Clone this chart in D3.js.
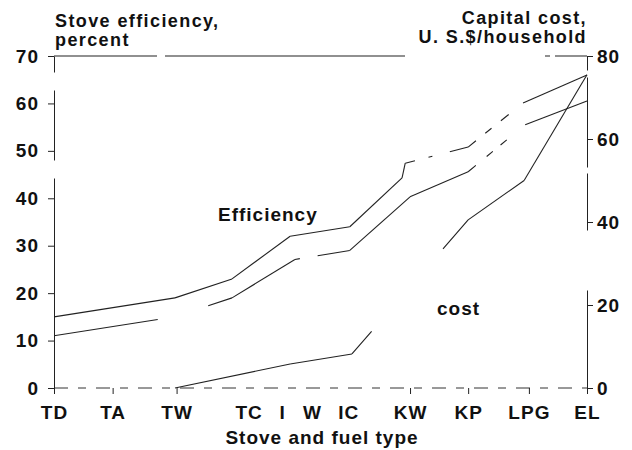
<!DOCTYPE html>
<html>
<head>
<meta charset="utf-8">
<script src="https://cdn.jsdelivr.net/npm/d3@7"></script>
<style>
body { margin: 0; background: #fff; }
text { font-family: "Liberation Sans", Arial, sans-serif; font-weight: bold; fill: #111; }
</style>
</head>
<body>
<script>
// stove / fuel types along the bottom, with their place on the (uneven) category axis
var categories = ["TD", "TA", "TW", "TC", "I", "W", "IC", "KW", "KP", "LPG", "EL"];
var categoryPos = [0, 1.1, 2.3, 3.65, 4.28, 4.84, 5.52, 6.68, 7.77, 8.91, 10];
// these have no tick mark in the original
var noTick = ["TC", "I", "W", "IC"];

// efficiency band, percent (left axis) - [axis position, value]
var effUpper = [[0, 15], [2.27, 19], [3.34, 23], [4.43, 32], [5.55, 34], [6.53, 44.3], [6.59, 47.4], [7.77, 50.8], [8.8, 60.1], [10, 66]];
var effLower = [[0, 11], [2.27, 15], [3.34, 19], [4.52, 27.1], [5.55, 29], [6.68, 40.3], [7.77, 45.6], [8.84, 55.5], [10, 60.5]];

// capital cost, US$/household (right axis)
var capCost = [[2.27, 0], [4.43, 5.8], [5.59, 8.2], [7.77, 40.5], [8.82, 50], [10, 75.5]];

var leftTicks = [0, 10, 20, 30, 40, 50, 60, 70];
var rightTicks = [0, 20, 40, 60, 80];

var W = 632, H = 450;
var x0 = 54, x1 = 587, yTop = 56, yBot = 388;

var svg = d3.select("body").append("svg")
    .attr("width", W)
    .attr("height", H);

var x = d3.scaleLinear().domain([0, 10]).range([x0, x1]);
var yL = d3.scaleLinear().domain([0, 70]).range([yBot, yTop]);
var yR = d3.scaleLinear().domain([0, 80]).range([yBot, yTop]);

// scanned original has broken strokes, mimic them roughly with dashes
var upperDash = {6: "10 14 4 18 22", 7: "10 12 8 12 10 30"};
var lowerDash = {0: "105 40", 1: "0 35 80", 3: "5 18 100", 6: "10 14 8 10 8 30"};
var costDash = {2: "30 109 80"};

function drawSeries(data, yScale, dashes) {
    var line = d3.line()
        .x(function(d) { return x(d[0]); })
        .y(function(d) { return yScale(d[1]); });
    for (var i = 0; i < data.length - 1; i++) {
        svg.append("path")
            .attr("d", line([data[i], data[i + 1]]))
            .attr("fill", "none")
            .attr("stroke", "#222")
            .attr("stroke-width", 1.1)
            .attr("stroke-dasharray", dashes[i] || null);
    }
}

// top frame line at 70 / 80
svg.append("line")
    .attr("x1", x0).attr("x2", x1)
    .attr("y1", yTop).attr("y2", yTop)
    .attr("stroke", "#222")
    .attr("stroke-width", 1.1)
    .attr("stroke-dasharray", "103 8 240 140 5 5 40");

// zero baseline, dashed in the original
svg.append("line")
    .attr("x1", x0).attr("x2", x1)
    .attr("y1", yBot).attr("y2", yBot)
    .attr("stroke", "#333")
    .attr("stroke-width", 1)
    .attr("stroke-dasharray", "14 10 8 10");

var leftAxis = d3.axisLeft(yL)
    .tickValues(leftTicks)
    .tickSize(6)
    .tickSizeOuter(0)
    .tickPadding(9);

var rightAxis = d3.axisRight(yR)
    .tickValues(rightTicks)
    .tickSize(6)
    .tickSizeOuter(0)
    .tickPadding(4);

var bottomAxis = d3.axisBottom(x)
    .tickValues(categoryPos)
    .tickFormat(function(d, i) { return categories[i]; })
    .tickSize(6)
    .tickSizeOuter(0)
    .tickPadding(12);

var gl = svg.append("g")
    .attr("transform", "translate(" + x0 + ",0)")
    .call(leftAxis);
gl.select(".domain").attr("stroke-dasharray", "210 18 70 18 16");

var gr = svg.append("g")
    .attr("transform", "translate(" + x1 + ",0)")
    .call(rightAxis);
gr.select(".domain").attr("stroke-dasharray", "98 60 57 6 90 7 14");

var gb = svg.append("g")
    .attr("transform", "translate(0," + yBot + ")")
    .call(bottomAxis);
gb.select(".domain").remove();
gb.selectAll(".tick").filter(function(d, i) { return noTick.indexOf(categories[i]) >= 0; })
    .select("line").remove();

svg.selectAll(".tick line").attr("stroke", "#222");
svg.selectAll(".domain").attr("stroke", "#222");
svg.selectAll(".tick text")
    .style("font-family", "'Liberation Sans', Arial, sans-serif")
    .style("font-weight", "bold")
    .style("font-size", "19px")
    .style("letter-spacing", "1px")
    .attr("fill", "#111");

drawSeries(effUpper, yL, upperDash);
drawSeries(effLower, yL, lowerDash);
drawSeries(capCost, yR, costDash);

function label(txt, lx, ly, anchor, size, spacing) {
    svg.append("text")
        .attr("x", lx)
        .attr("y", ly)
        .attr("text-anchor", anchor || "start")
        .style("font-size", (size || 19) + "px")
        .style("letter-spacing", (spacing || 1) + "px")
        .text(txt);
}

label("Stove efficiency,", 55, 27, "start", 18, 1.4);
label("percent", 55, 46, "start", 18, 1.4);
label("Capital cost,", 587, 24, "end", 18, 1.4);
label("U. S.$/household", 587, 43, "end", 18, 1.4);
label("Efficiency", 218, 221);
label("cost", 437, 315);
label("Stove and fuel type", 322, 444, "middle");
</script>
</body>
</html>
